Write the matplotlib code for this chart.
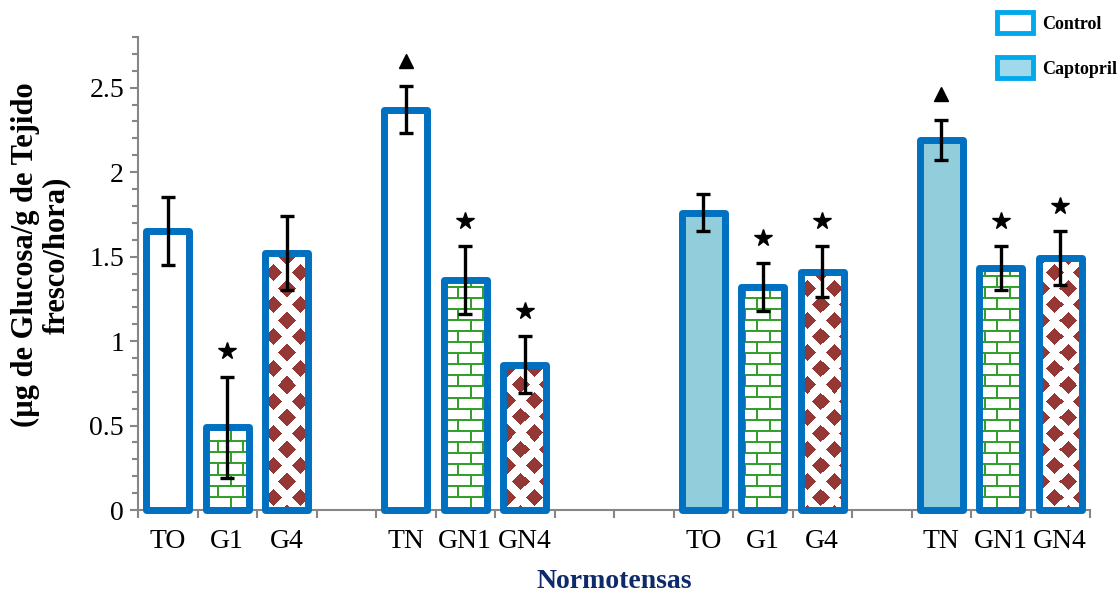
import numpy as np
import matplotlib
matplotlib.use("Agg")
import matplotlib.pyplot as plt
from matplotlib.patches import Patch

plt.rcParams["font.family"] = ["Liberation Serif", "DejaVu Serif"]

# --- data -------------------------------------------------------------
categories = ["TO", "G1", "G4", "TN", "GN1", "GN4"]
fills = ["plain", "brick", "diamond", "plain", "brick", "diamond"]

control_mean = [1.65, 0.49, 1.52, 2.37, 1.36, 0.86]
control_err = [0.20, 0.30, 0.22, 0.14, 0.20, 0.17]
control_marks = ["", "*", "", "^", "*", "*"]

captopril_mean = [1.76, 1.32, 1.41, 2.19, 1.43, 1.49]
captopril_err = [0.11, 0.14, 0.15, 0.12, 0.13, 0.16]
captopril_marks = ["", "*", "*", "^", "*", "*"]

# slot index of each bar on the x axis (gaps between groups)
control_pos = [0, 1, 2, 4, 5, 6]
captopril_pos = [9, 10, 11, 13, 14, 15]

EDGE = "#0070c0"
CAPTO_FILL = "#92cddc"
GREEN = np.array([0x33, 0xa0, 0x2c]) / 255
DRED = np.array([0x95, 0x37, 0x35]) / 255
W, H = 1117, 595
BW = 0.72


def pattern(kind, x0, y0, w, h):
    """pattern image in figure pixels (y0 = top, measured from figure top)"""
    X, Y = np.meshgrid(np.arange(w) + x0, np.arange(h) + y0)
    img = np.ones((h, w, 3))
    if kind == "brick":
        row = (Y // 11).astype(int)
        mask = (Y % 11 < 2) | (((X + (row % 2) * 12) % 24) < 2)
        img[mask] = GREEN
    else:
        hp, vp = 26, 32
        u, v = X % hp, Y % vp
        d1 = np.minimum(u, hp - u) + np.minimum(v, vp - v)
        d2 = np.abs(u - hp / 2) + np.abs(v - vp / 2)
        img[np.minimum(d1, d2) < 8.5] = DRED
    return img


fig = plt.figure(figsize=(W / 100, H / 100), dpi=100)
ax = fig.add_axes([138 / W, 1 - 510 / H, (1090 - 138) / W, (510 - 37) / H])
ax.set_xlim(-0.5, 15.5)
ax.set_ylim(0, 2.8)

groups = [
    (control_pos, control_mean, control_err, control_marks, "white"),
    (captopril_pos, captopril_mean, captopril_err, captopril_marks, CAPTO_FILL),
]

for pos, mean, err, marks, face in groups:
    for x, m, e, mk, kind in zip(pos, mean, err, marks, fills):
        fc = face if kind == "plain" else "white"
        ax.bar(x, m, width=BW, color=fc, zorder=2, clip_on=False)
        if kind != "plain":
            (px0, py1) = ax.transData.transform((x - BW / 2, m))
            (px1, py0) = ax.transData.transform((x + BW / 2, 0))
            img = pattern(kind, int(px0), int(H - py1),
                          max(int(px1 - px0), 1), max(int(py1 - py0), 1))
            ax.imshow(img, extent=(x - BW / 2, x + BW / 2, 0, m),
                      aspect="auto", interpolation="nearest", zorder=2.5)
        b = ax.bar(x, m, width=BW, fill=False, edgecolor=EDGE, linewidth=5,
                   zorder=3, clip_on=False)
        for p in b:
            p.set_joinstyle("round")
        ax.errorbar(x, m, yerr=e, fmt="none", ecolor="black", elinewidth=2.4,
                    capsize=5, capthick=2.4, zorder=4)
        if mk == "*":
            ax.plot(x, m + e + 0.15, marker="*", color="black", ms=13, zorder=4)
        elif mk == "^":
            ax.plot(x, m + e + 0.15, marker="^", color="black", ms=10, zorder=4)

ax.set_xlim(-0.5, 15.5)
ax.set_ylim(0, 2.8)

# axes styling
for s in ["top", "right"]:
    ax.spines[s].set_visible(False)
for s in ["left", "bottom"]:
    ax.spines[s].set_color("#868686")
    ax.spines[s].set_linewidth(1.5)

ax.set_yticks(np.arange(0, 2.51, 0.5))
ax.set_yticklabels(["0", "0.5", "1", "1.5", "2", "2.5"])
ax.set_yticks(np.arange(0, 2.81, 0.1), minor=True)
ax.tick_params(axis="y", which="major", length=6, width=1.5, color="#868686",
               labelsize=20, pad=4)
ax.tick_params(axis="y", which="minor", length=4, width=1.5, color="#868686")

ax.set_xticks(np.arange(-0.5, 15.6, 1))
ax.set_xticklabels([])
ax.set_xticks(control_pos + captopril_pos, minor=True)
ax.set_xticklabels(categories + categories, minor=True)
ax.tick_params(axis="x", which="major", length=6, width=1.5, color="#868686")
ax.tick_params(axis="x", which="minor", length=0, labelsize=20, pad=14)

fig.text(614 / W, 1 - 582 / H, "Normotensas", ha="center", va="center",
         fontsize=20, fontweight="bold", color="#0f2a6b")
fig.text(41 / W, 1 - 255 / H, "(µg de Glucosa/g de Tejido\nfresco/hora)",
         ha="center", va="center", rotation=90, fontsize=22,
         fontweight="bold", linespacing=1.1)

handles = [
    Patch(facecolor="white", edgecolor="#00a8ec", linewidth=3.5, label="Control"),
    Patch(facecolor="#a0d8ec", edgecolor="#00a8ec", linewidth=3.5, label="Captopril"),
]
fig.legend(handles=handles, loc="upper left", bbox_to_anchor=(997 / W, 1 - 12 / H),
           frameon=False, borderpad=0, borderaxespad=0, handlelength=2.0,
           handleheight=1.45, labelspacing=1.3, handletextpad=0.5,
           prop={"weight": "bold", "size": 13})

fig.savefig("out.png", dpi=100)
